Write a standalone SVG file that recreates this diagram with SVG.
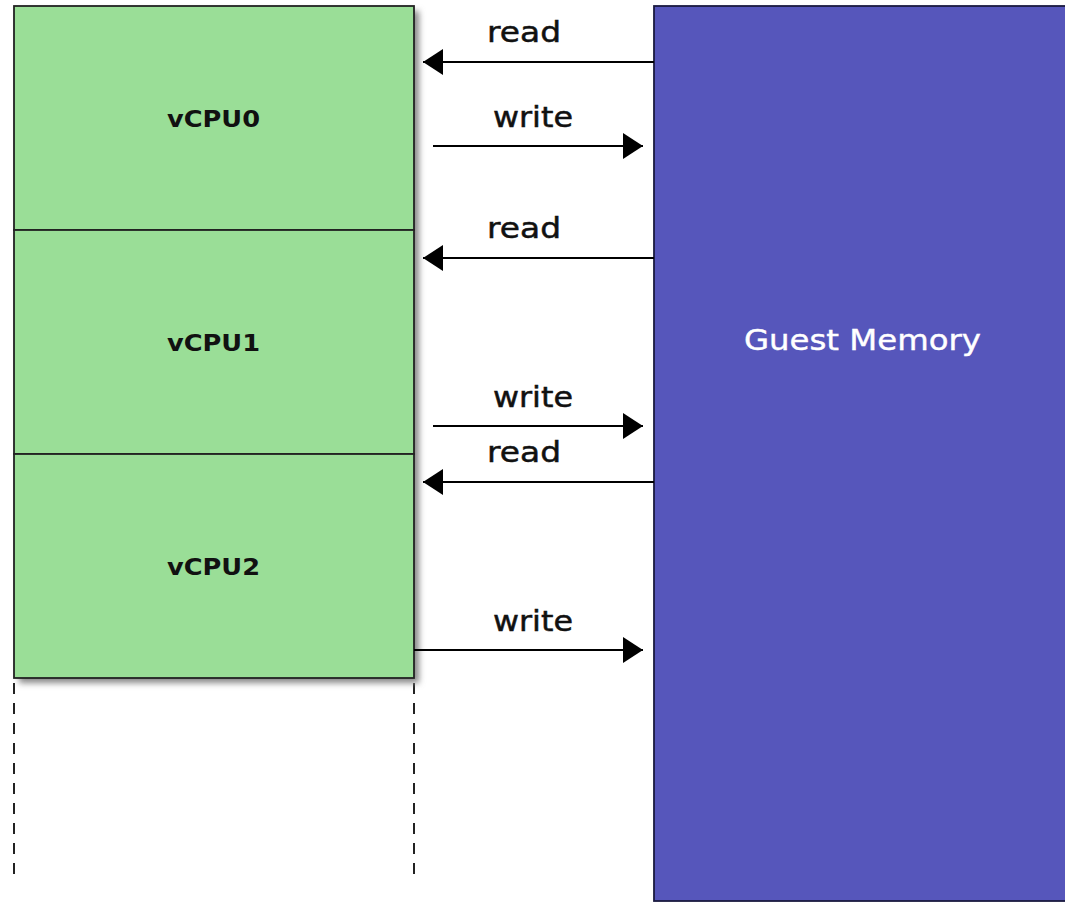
<svg xmlns="http://www.w3.org/2000/svg" width="1065" height="903" viewBox="0 0 1065 903">
  <defs>
    <filter id="shadow" x="-10%" y="-10%" width="130%" height="130%">
      <feGaussianBlur stdDeviation="3"/>
    </filter>
    <marker id="head" markerUnits="userSpaceOnUse" markerWidth="22" markerHeight="28" refX="20" refY="13" orient="auto">
      <polygon points="0,0 20,13 0,26" fill="#000"/>
    </marker>
    <style>
      .cpu { fill: #9ade97; stroke: #222; stroke-width: 1.8; }
      .mem { fill: #5656bb; stroke: #1a1a40; stroke-width: 1.8; }
      .cpu-label { font-family: "DejaVu Sans", sans-serif; font-weight: bold; font-size: 23px; fill: #111; }
      .mem-label { font-family: "DejaVu Sans", sans-serif; font-size: 28px; fill: #fff; stroke: #fff; stroke-width: 0.4; }
      .edge { stroke: #000; stroke-width: 2; fill: none; marker-end: url(#head); }
      .edge-label { font-family: "DejaVu Sans", sans-serif; font-size: 29px; fill: #111; stroke: #111; stroke-width: 0.5; }
      .lifeline { stroke: #222; stroke-width: 2; stroke-dasharray: 11 9; fill: none; }
    </style>
  </defs>

  <rect width="1065" height="903" fill="#fff"/>

  <!-- lifelines below the vCPU stack -->
  <g id="lifelines">
    <line class="lifeline" x1="14" y1="683" x2="14" y2="877"/>
    <line class="lifeline" x1="414" y1="683" x2="414" y2="877"/>
  </g>

  <!-- drop shadow behind the vCPU stack -->
  <rect x="19" y="11" width="400" height="672" fill="#888" filter="url(#shadow)"/>

  <g id="vcpu0">
    <rect class="cpu" x="14" y="6" width="400" height="224"/>
    <text class="cpu-label" x="167" y="127" textLength="93" lengthAdjust="spacingAndGlyphs">vCPU0</text>
  </g>
  <g id="vcpu1">
    <rect class="cpu" x="14" y="230" width="400" height="224"/>
    <text class="cpu-label" x="167" y="351" textLength="93" lengthAdjust="spacingAndGlyphs">vCPU1</text>
  </g>
  <g id="vcpu2">
    <rect class="cpu" x="14" y="454" width="400" height="224"/>
    <text class="cpu-label" x="167" y="575" textLength="93" lengthAdjust="spacingAndGlyphs">vCPU2</text>
  </g>

  <g id="guest-memory">
    <rect class="mem" x="654" y="6" width="420" height="895"/>
    <text class="mem-label" x="744" y="350" textLength="237" lengthAdjust="spacingAndGlyphs">Guest Memory</text>
  </g>

  <g id="connectors">
    <line class="edge" x1="654" y1="62" x2="423" y2="62"/>
    <text class="edge-label" x="487" y="42" textLength="74" lengthAdjust="spacingAndGlyphs">read</text>

    <line class="edge" x1="433" y1="146" x2="643" y2="146"/>
    <text class="edge-label" x="493" y="127" textLength="80" lengthAdjust="spacingAndGlyphs">write</text>

    <line class="edge" x1="654" y1="258" x2="423" y2="258"/>
    <text class="edge-label" x="487" y="238" textLength="74" lengthAdjust="spacingAndGlyphs">read</text>

    <line class="edge" x1="433" y1="426" x2="643" y2="426"/>
    <text class="edge-label" x="493" y="407" textLength="80" lengthAdjust="spacingAndGlyphs">write</text>

    <line class="edge" x1="654" y1="482" x2="423" y2="482"/>
    <text class="edge-label" x="487" y="462" textLength="74" lengthAdjust="spacingAndGlyphs">read</text>

    <line class="edge" x1="414" y1="650" x2="643" y2="650"/>
    <text class="edge-label" x="493" y="631" textLength="80" lengthAdjust="spacingAndGlyphs">write</text>
  </g>
</svg>
